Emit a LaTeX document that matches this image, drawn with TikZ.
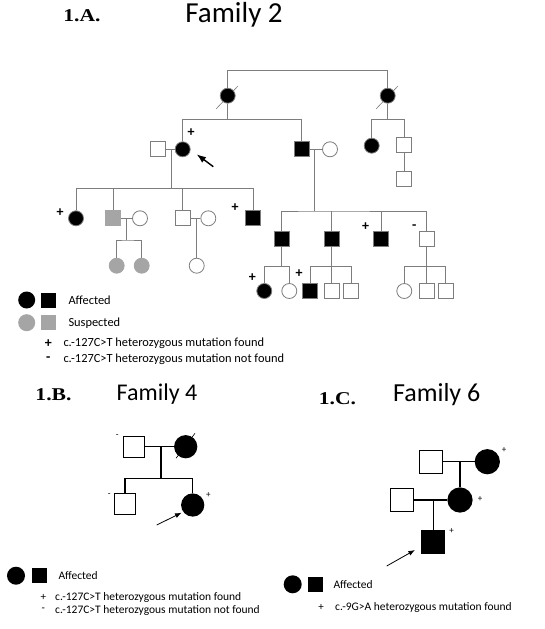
\documentclass[tikz,border=0pt]{standalone}
\usepackage{fontspec}
\setmainfont{Carlito}
\newfontfamily\panelfont{Liberation Serif}
\usetikzlibrary{arrows.meta, backgrounds}

\definecolor{lineA}{RGB}{125,125,125}
\definecolor{suspgray}{RGB}{165,165,165}

\begin{document}
\begin{tikzpicture}[x=1pt, y=-1pt, >=Latex]

	% Styles
	\tikzstyle{female} = [circle, draw=lineA, line width=0.8pt, minimum size=15pt, inner sep=0pt]
	\tikzstyle{male} = [rectangle, draw=lineA, line width=0.8pt, minimum size=15pt, inner sep=0pt]
	\tikzstyle{bigfemale} = [circle, draw=black, line width=1.2pt, minimum size=22pt, inner sep=0pt]
	\tikzstyle{bigmale} = [rectangle, draw=black, line width=1.2pt, minimum size=21pt, inner sep=0pt]
	\tikzstyle{aff} = [fill=black]
	\tikzstyle{susp} = [fill=suspgray, draw=suspgray]
	\tikzstyle{link} = [draw=lineA, line width=0.8pt]
	\tikzstyle{boldlink} = [draw=black, line width=1.2pt]
	\tikzstyle{slash} = [draw=lineA, line width=0.6pt]
	\tikzstyle{sign} = [inner sep=0pt, font=\fontsize{14}{14}\selectfont\bfseries]
	\tikzstyle{smallsign} = [inner sep=0pt, font=\fontsize{9}{9}\selectfont]
	\tikzstyle{legend} = [anchor=west, inner sep=0pt, font=\fontsize{12.4}{12.4}\selectfont]
	\tikzstyle{panel} = [inner sep=0pt, xscale=1.2, font=\fontsize{18}{18}\selectfont\panelfont\bfseries]
	\tikzstyle{title} = [inner sep=0pt]

	\useasboundingbox (0,0) rectangle (545,629);

	% ---------------- 1.A. Family 2 ----------------
	\node[panel] (labA) at (82,16) {1.A.};
	\node[title, font=\fontsize{29}{29}\selectfont] (famA) at (234,15) {Family 2};

	% Nodes
	\node[female, aff] (gmA) at (227.7,95.7) {};
	\node[female, aff] (gmB) at (387.7,95.7) {};
	\coordinate (topA) at (307.7,70.7);

	\node[male] (h1) at (158.3,149.3) {};
	\node[female, aff] (d1) at (182.7,149.3) {};
	\node[sign] (pd1) at (191,133) {+};
	\node[male, aff] (s1) at (301.7,149.3) {};
	\node[female] (w1) at (330,149.3) {};
	\node[female, aff] (b1) at (371.7,145.7) {};
	\node[male] (b2) at (404.3,144.5) {};
	\node[male] (b3) at (404.3,178.7) {};

	\node[female, aff] (g3a) at (76,218.3) {};
	\node[sign] (pg3a) at (60,212.3) {+};
	\node[male, susp] (g3b) at (113.3,218.3) {};
	\node[female] (w3b) at (140,218.3) {};
	\node[male] (g3c) at (182.7,218.3) {};
	\node[female] (w3c) at (208.3,218.3) {};
	\node[male, aff] (g3d) at (253.3,218.3) {};
	\node[sign] (pg3d) at (235,207.3) {+};

	\node[female, susp] (g4a) at (116.7,265.7) {};
	\node[female, susp] (g4b) at (141.7,265.7) {};
	\node[female] (g4c) at (196.7,265.7) {};

	\node[male, aff] (r1) at (281.7,239.3) {};
	\node[male, aff] (r2) at (331.7,239.3) {};
	\node[male, aff] (r3) at (381,239.3) {};
	\node[sign] (pr3) at (365.7,226.7) {+};
	\node[male] (r4) at (426.7,239.3) {};
	\node[sign] (mr4) at (414.3,226.7) {-};

	\node[female, aff] (q1) at (264.3,291) {};
	\node[sign] (pq1) at (252.3,277.3) {+};
	\node[female] (q2) at (289.3,291) {};
	\node[male, aff] (q3) at (310,291) {};
	\node[sign] (pq3) at (299,274) {+};
	\node[male] (q4) at (331.7,291) {};
	\node[male] (q5) at (351,291) {};
	\node[female] (q6) at (404.3,291) {};
	\node[male] (q7) at (426.7,291) {};
	\node[male] (q8) at (445.7,291) {};

	% Lines
	\draw[link] (gmA.north) |- (topA) -| (gmB.north);

	\coordinate (sibA) at (227.7,119.3);
	\draw[link] (gmA.south) -- (sibA);
	\draw[link] (d1.north) |- (sibA) -| (s1.north);

	\coordinate (sibB) at (387.7,119.3);
	\draw[link] (gmB.south) -- (sibB);
	\draw[link] (b1.north) |- (sibB) -| (b2.north);
	\draw[link] (b2) -- (b3);

	\draw[link] (h1) -- (d1);
	\coordinate (mA) at (171.7,149.3);
	\coordinate (sibC) at (171.7,188.3);
	\draw[link] (mA) -- (sibC);
	\draw[link] (g3a.north) |- (sibC) -| (g3d.north);
	\draw[link] (g3b.north) -- (g3b.north |- sibC);
	\draw[link] (g3c.north) -- (g3c.north |- sibC);

	\draw[link] (g3b) -- (w3b);
	\coordinate (mB3) at (126.7,218.3);
	\coordinate (sibD) at (126.7,240);
	\draw[link] (mB3) -- (sibD);
	\draw[link] (g4a.north) |- (sibD) -| (g4b.north);

	\draw[link] (g3c) -- (w3c);
	\coordinate (mC3) at (196.7,218.3);
	\draw[link] (mC3) -- (g4c);

	\draw[link] (s1) -- (w1);
	\coordinate (mB) at (314.3,149.3);
	\coordinate (sibE) at (314.3,211);
	\draw[link] (mB) -- (sibE);
	\draw[link] (r1.north) |- (sibE) -| (r4.north);
	\draw[link] (r2.north) -- (r2.north |- sibE);
	\draw[link] (r3.north) -- (r3.north |- sibE);

	\coordinate (sibF) at (281.7,266.7);
	\draw[link] (r1.south) -- (sibF);
	\draw[link] (q1.north) |- (sibF) -| (q2.north);
	\coordinate (sibG) at (331.7,266.7);
	\draw[link] (r2.south) -- (sibG);
	\draw[link] (q3.north) |- (sibG) -| (q5.north);
	\draw[link] (q4.north) -- (sibG);
	\coordinate (sibH) at (426.7,266.7);
	\draw[link] (r4.south) -- (sibH);
	\draw[link] (q6.north) |- (sibH) -| (q8.north);
	\draw[link] (q7.north) -- (sibH);

	% Proband
	\coordinate (arA) at (213.3,166.7);
	\draw[->, line width=1.4pt] (arA) -- ([shift={(14,5)}]d1.center);

	% Legend
	\node[circle, aff, minimum size=17pt, inner sep=0pt] (laF) at (26.7,300) {};
	\node[rectangle, aff, minimum size=15pt, inner sep=0pt] (laM) at (48.3,300) {};
	\node[legend] (laT) at (68.3,300) {Affected};
	\node[circle, fill=suspgray, minimum size=17pt, inner sep=0pt] (lsF) at (26.7,322.7) {};
	\node[rectangle, fill=suspgray, minimum size=15pt, inner sep=0pt] (lsM) at (48.3,322.7) {};
	\node[legend] (lsT) at (68.3,322.7) {Suspected};
	\node[sign] (lpA) at (48.3,343.3) {+};
	\node[legend] (lpT) at (63.3,343.3) {c.-127C>T heterozygous mutation found};
	\node[sign] (lmA) at (48.3,359.3) {-};
	\node[legend] (lmT) at (63.3,359.3) {c.-127C>T heterozygous mutation not found};

	% ---------------- 1.B. Family 4 ----------------
	\node[panel] (labB) at (53.5,395) {1.B.};
	\node[title, font=\fontsize{24}{24}\selectfont] (famB) at (157,394) {Family 4};

	\node[bigmale] (f4h) at (134.3,446.7) {};
	\node[bigfemale, aff] (f4w) at (185.7,446.7) {};
	\node[bigmale] (f4s) at (125,504.3) {};
	\node[bigfemale, aff] (f4d) at (192.7,505) {};
	\node[smallsign] (mf4h) at (117.3,435.7) {-};
	\node[smallsign] (mf4s) at (109.3,495) {-};
	\node[smallsign] (pf4d) at (208.3,495) {+};

	\draw[boldlink] (f4h) -- (f4w);
	\coordinate (mF4) at (161,446.7);
	\coordinate (sibF4) at (161,478.3);
	\draw[boldlink] (mF4) -- (sibF4);
	\draw[boldlink] (f4s.north) |- (sibF4) -| (f4d.north);

	\coordinate (arB) at (156.7,525);
	\draw[->, line width=0.8pt] (arB) -- ([shift={(-11,7.7)}]f4d.center);

	\node[circle, aff, minimum size=18pt, inner sep=0pt] (lbF) at (16,575.7) {};
	\node[rectangle, aff, minimum size=15pt, inner sep=0pt] (lbM) at (39.3,575.7) {};
	\node[legend, font=\fontsize{11.5}{11.5}\selectfont] (lbT) at (58.3,575.7) {Affected};
	\node[smallsign, font=\fontsize{11}{11}\selectfont] (lpB) at (43.3,597.7) {+};
	\node[legend, font=\fontsize{11.5}{11.5}\selectfont] (lpBT) at (55,597.7) {c.-127C>T heterozygous mutation found};
	\node[smallsign, font=\fontsize{11}{11}\selectfont] (lmB) at (43.3,610) {-};
	\node[legend, font=\fontsize{11.5}{11.5}\selectfont] (lmBT) at (55,610) {c.-127C>T heterozygous mutation not found};

	% ---------------- 1.C. Family 6 ----------------
	\node[panel] (labC) at (337.5,398.3) {1.C.};
	\node[title, font=\fontsize{26}{26}\selectfont] (famC) at (436.7,395) {Family 6};

	\node[bigmale, minimum size=23pt] (f6h1) at (431,461.7) {};
	\node[bigfemale, aff, minimum size=24pt] (f6w1) at (487.3,461.7) {};
	\node[smallsign] (pf6w1) at (504,450) {+};
	\node[bigmale, minimum size=23pt] (f6h2) at (402.3,500) {};
	\node[bigfemale, aff, minimum size=24pt] (f6w2) at (460,500) {};
	\node[smallsign] (pf6w2) at (480,499) {+};
	\node[bigmale, aff, minimum size=23pt] (f6c) at (433.3,541.7) {};
	\node[smallsign] (pf6c) at (451.7,531) {+};

	\draw[boldlink] (f6h1) -- (f6w1);
	\coordinate (mF6) at (460,461.7);
	\draw[boldlink] (mF6) -- (f6w2);
	\draw[boldlink] (f6h2) -- (f6w2);
	\coordinate (mF6b) at (433.3,500);
	\draw[boldlink] (mF6b) -- (f6c);

	\coordinate (arC) at (386.7,566);
	\draw[->, line width=0.8pt] (arC) -- ([shift={(-18.3,8.3)}]f6c.center);

	\node[circle, aff, minimum size=18pt, inner sep=0pt] (lcF) at (292.7,584.3) {};
	\node[rectangle, aff, minimum size=15pt, inner sep=0pt] (lcM) at (315,584.3) {};
	\node[legend, font=\fontsize{11.5}{11.5}\selectfont] (lcT) at (333.3,584.3) {Affected};
	\node[smallsign, font=\fontsize{11}{11}\selectfont] (lpC) at (321,607.7) {+};
	\node[legend, font=\fontsize{11.5}{11.5}\selectfont] (lpCT) at (335,607.7) {c.-9G>A heterozygous mutation found};

	% Deceased marks and page, behind the symbols
	\begin{scope}[on background layer]
		\fill[white] (0,0) rectangle (545,629);
		\draw[slash] ([shift={(-11.7,13.3)}]gmA.center) -- ([shift={(10.3,-9.7)}]gmA.center);
		\draw[slash] ([shift={(-11.7,13.3)}]gmB.center) -- ([shift={(10.3,-9.7)}]gmB.center);
		\draw[slash, draw=black] ([shift={(-9.7,11.6)}]f4w.center) -- ([shift={(9.3,-13.4)}]f4w.center);
	\end{scope}

\end{tikzpicture}
\end{document}
